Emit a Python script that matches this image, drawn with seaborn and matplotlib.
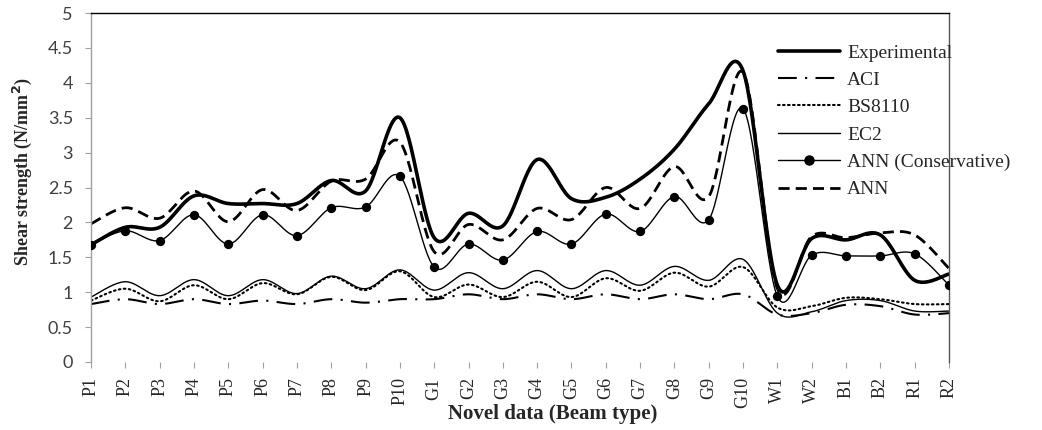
import numpy as np
import pandas as pd
import matplotlib
matplotlib.use("Agg")
import matplotlib.pyplot as plt
from matplotlib.lines import Line2D
import seaborn as sns

categories = ["P1", "P2", "P3", "P4", "P5", "P6", "P7", "P8", "P9", "P10",
              "G1", "G2", "G3", "G4", "G5", "G6", "G7", "G8", "G9", "G10",
              "W1", "W2", "B1", "B2", "R1", "R2"]

experimental = [1.68, 1.93, 1.93, 2.38, 2.27, 2.27, 2.27, 2.60, 2.45, 3.50,
                1.78, 2.13, 1.95, 2.90, 2.34, 2.36, 2.62, 3.05, 3.70, 4.17,
                1.10, 1.77, 1.75, 1.82, 1.17, 1.26]
aci = [0.83, 0.90, 0.83, 0.90, 0.83, 0.88, 0.83, 0.90, 0.85, 0.90,
       0.90, 0.97, 0.90, 0.97, 0.90, 0.97, 0.90, 0.97, 0.90, 0.97,
       0.68, 0.70, 0.82, 0.80, 0.68, 0.70]
bs8110 = [0.88, 1.05, 0.87, 1.10, 0.90, 1.13, 0.97, 1.22, 1.03, 1.30,
          0.93, 1.11, 0.93, 1.15, 0.93, 1.20, 1.02, 1.28, 1.08, 1.36,
          0.78, 0.80, 0.92, 0.90, 0.83, 0.83]
ec2 = [0.93, 1.15, 0.95, 1.18, 0.95, 1.18, 0.98, 1.23, 1.05, 1.32,
       1.03, 1.28, 1.05, 1.31, 1.05, 1.31, 1.10, 1.37, 1.17, 1.47,
       0.70, 0.72, 0.88, 0.88, 0.73, 0.73]
ann_conservative = [1.68, 1.88, 1.74, 2.11, 1.69, 2.11, 1.81, 2.21, 2.22, 2.66,
                    1.36, 1.69, 1.46, 1.87, 1.69, 2.12, 1.87, 2.37, 2.04, 3.63,
                    0.94, 1.53, 1.52, 1.52, 1.55, 1.10]
ann = [1.98, 2.21, 2.06, 2.45, 2.01, 2.47, 2.17, 2.59, 2.62, 3.15,
       1.58, 1.97, 1.75, 2.20, 2.04, 2.50, 2.20, 2.80, 2.37, 4.15,
       1.05, 1.80, 1.78, 1.85, 1.82, 1.34]

y_ticks = [0, 0.5, 1, 1.5, 2, 2.5, 3, 3.5, 4, 4.5, 5]
y_tick_labels = ["0", "0.5", "1", "1.5", "2", "2.5", "3", "3.5", "4", "4.5", "5"]


def smooth(values, n=30):
    """Excel-style smoothed line (Catmull-Rom Bezier) through the points."""
    p = np.asarray(values, float)
    x = np.arange(len(p), dtype=float)
    xs, ys = [], []
    for i in range(len(p) - 1):
        p0 = p[i - 1] if i > 0 else p[i]
        p3 = p[i + 2] if i + 2 < len(p) else p[i + 1]
        x0 = x[i - 1] if i > 0 else x[i]
        x3 = x[i + 2] if i + 2 < len(p) else x[i + 1]
        c1y = p[i] + (p[i + 1] - p0) / 6
        c2y = p[i + 1] - (p3 - p[i]) / 6
        c1x = x[i] + (x[i + 1] - x0) / 6
        c2x = x[i + 1] - (x3 - x[i]) / 6
        t = np.linspace(0, 1, n, endpoint=(i == len(p) - 2))
        b0, b1, b2, b3 = (1 - t) ** 3, 3 * (1 - t) ** 2 * t, 3 * (1 - t) * t ** 2, t ** 3
        xs.append(b0 * x[i] + b1 * c1x + b2 * c2x + b3 * x[i + 1])
        ys.append(b0 * p[i] + b1 * c1y + b2 * c2y + b3 * p[i + 1])
    return np.concatenate(xs), np.concatenate(ys)


sns.set_theme(style="white")
plt.rcParams["font.family"] = ["Liberation Serif", "DejaVu Serif"]

fig = plt.figure(figsize=(10.42, 4.30), dpi=100)
ax = fig.add_axes([91 / 1042, 1 - 362 / 430, (949 - 91) / 1042, (362 - 13) / 430])

series = [
    ("Experimental", experimental, dict(color="black", linewidth=2.6, linestyle="-")),
    ("ACI", aci, dict(color="black", linewidth=1.5, linestyle=(0, (9, 4, 1, 4)))),
    ("BS8110", bs8110, dict(color="black", linewidth=1.5, linestyle=(0, (0.8, 1.6)), dash_capstyle="round")),
    ("EC2", ec2, dict(color="black", linewidth=1.0, linestyle="-")),
    ("ANN (Conservative)", ann_conservative, dict(color="black", linewidth=1.0, linestyle="-")),
    ("ANN", ann, dict(color="black", linewidth=2.0, linestyle=(0, (4, 2.2)))),
]

for name, vals, style in series:
    sx, sy = smooth(vals)
    df = pd.DataFrame({"x": sx, "y": sy})
    sns.lineplot(data=df, x="x", y="y", ax=ax, sort=False, estimator=None, legend=False, **style)

pts = pd.DataFrame({"x": np.arange(len(categories)), "y": ann_conservative})
sns.scatterplot(data=pts, x="x", y="y", ax=ax, color="black", s=45, edgecolor="black", linewidth=0, legend=False, zorder=5)

ax.set_xlim(0, len(categories) - 1)
ax.set_ylim(0, 5)
ax.set_xticks(np.arange(len(categories)))
ax.set_xticklabels(categories, rotation=90, fontsize=13, family=["Liberation Serif"])
ax.set_yticks(y_ticks)
ax.set_yticklabels(y_tick_labels, fontsize=13, family=["Lato", "DejaVu Sans"], color="#404040")
ax.tick_params(axis="x", direction="out", length=4, width=0.8, color="#a0a0a0", pad=7, bottom=True)
ax.tick_params(axis="y", direction="out", length=4, width=0.8, color="#a0a0a0", pad=9, left=True)

ax.spines["left"].set_color("#a0a0a0")
ax.spines["left"].set_linewidth(1.0)
ax.spines["bottom"].set_visible(False)
ax.spines["top"].set_color("black")
ax.spines["top"].set_linewidth(1.0)
ax.spines["right"].set_color("#555555")
ax.spines["right"].set_linewidth(1.0)
ax.grid(False)

ax.set_xlabel("Novel data (Beam type)", fontsize=15, fontweight="bold")
ax.xaxis.set_label_coords((553 - 91) / (949 - 91), (362 - 414) / (362 - 13))
ax.xaxis.label.set_verticalalignment("center")
ax.set_ylabel("Shear strength (N/mm$^\\mathbf{2}$)", fontsize=13, fontweight="bold")
ax.yaxis.set_label_coords((22 - 91) / (949 - 91), (362 - 172) / (362 - 13))
ax.yaxis.label.set_verticalalignment("center")

handles = []
for name, vals, style in series:
    st = {k: v for k, v in style.items()}
    if name == "ANN (Conservative)":
        h = Line2D([], [], marker="o", markersize=6.5, markerfacecolor="black", markeredgecolor="black", **st)
    else:
        h = Line2D([], [], **st)
    handles.append(h)

leg = fig.legend(handles, [s[0] for s in series], loc="upper left",
                 bbox_to_anchor=(778 / 1042, 1 - 44 / 430), frameon=False,
                 fontsize=14, handlelength=3.2, handletextpad=0.35,
                 labelspacing=0.5, numpoints=1, borderaxespad=0, borderpad=0)
for t in leg.get_texts():
    t.set_family(["Liberation Serif"])

fig.savefig("out.png", dpi=100)
